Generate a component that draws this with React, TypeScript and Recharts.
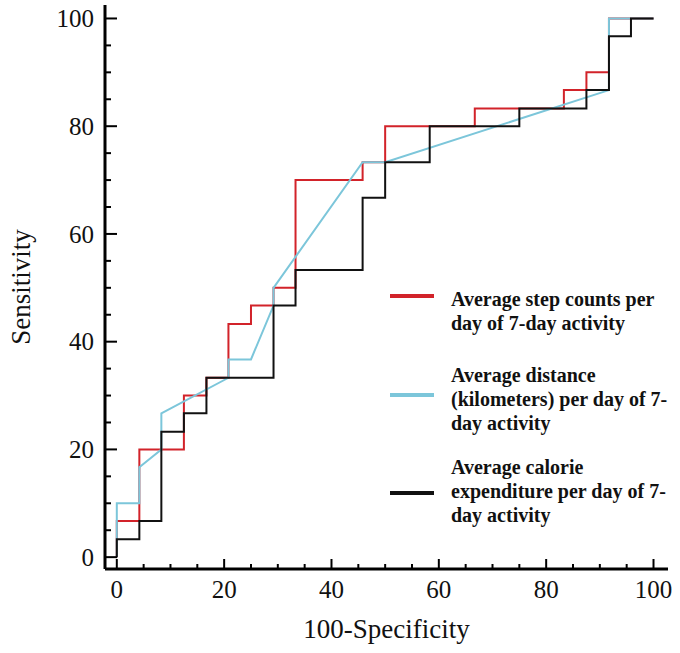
import { LineChart, Line, XAxis, YAxis, Legend, Label } from 'recharts';

// ROC operating points (100-Specificity, Sensitivity)
const stepX = [0, 0, 4.2, 12.5, 16.7, 20.8, 25, 29.2, 33.3, 45.8, 50, 66.7, 83.3, 87.5, 91.7, 100];
const stepY = [0, 6.7, 20, 30, 33.3, 43.3, 46.7, 50, 70, 73.3, 80, 83.3, 86.7, 90, 100, 100];

const distX = [0, 0, 4.2, 4.2, 8.3, 8.3, 20.8, 20.8, 25, 29.2, 29.2, 45.8, 50, 91.7, 91.7, 100];
const distY = [0, 10, 10, 16.7, 20, 26.7, 33.3, 36.7, 36.7, 46.7, 50, 73.3, 73.3, 86.7, 100, 100];

const calX = [0, 0, 4.2, 8.3, 12.5, 16.7, 29.2, 33.3, 45.8, 50, 58.3, 75, 87.5, 91.7, 95.8, 100];
const calY = [0, 3.3, 6.7, 23.3, 26.7, 33.3, 46.7, 53.3, 66.7, 73.3, 80, 83.3, 86.7, 96.7, 100, 100];

const axisTicks = [0, 5, 10, 15, 20, 25, 30, 35, 40, 45, 50, 55, 60, 65, 70, 75, 80, 85, 90, 95, 100];

const seriesNames = [
  'Average step counts per\nday of 7-day activity',
  'Average distance\n(kilometers) per day of 7-\nday activity',
  'Average calorie\nexpenditure per day of 7-\nday activity',
];
const seriesColors = ['#d2232a', '#7cc6da', '#111111'];

const toPoints = (xs: number[], ys: number[]) => xs.map((x, i) => ({ x, y: ys[i] }));

const FONT = '"Liberation Serif", "Times New Roman", serif';

// legend block placement (swatch centre, text top)
const legendSwatchY = [296, 395, 493];
const legendTextTop = [287, 363, 455];

const XTick = (props: any) => {
  const { x, y, payload } = props;
  const major = payload.value % 20 === 0;
  return (
    <g>
      <line x1={x} x2={x} y1={y} y2={y - (major ? 10 : 5)} stroke="#000" strokeWidth={2} />
      {major && (
        <text x={x} y={y + 29} textAnchor="middle" fontFamily={FONT} fontSize={25} fill="#111">
          {payload.value}
        </text>
      )}
    </g>
  );
};

const YTick = (props: any) => {
  const { x, y, payload } = props;
  const major = payload.value % 20 === 0;
  return (
    <g>
      <line x1={x} x2={x + (major ? 12 : 6)} y1={y} y2={y} stroke="#000" strokeWidth={2} />
      {major && (
        <text x={x - 11} y={y} dy="0.35em" textAnchor="end" fontFamily={FONT} fontSize={25} fill="#111">
          {payload.value}
        </text>
      )}
    </g>
  );
};

const renderLegend = (props: any) => {
  const { payload = [] } = props;
  return (
    <div style={{ position: 'relative', width: 680, height: 653 }}>
      {payload.map((entry: any) => {
        const i = seriesNames.indexOf(String(entry.value));
        return (
          <div key={i}>
            <div
              style={{
                position: 'absolute',
                left: 390,
                top: legendSwatchY[i] - 2,
                width: 44,
                height: 4,
                background: entry.color,
              }}
            />
            <div
              style={{
                position: 'absolute',
                left: 451,
                top: legendTextTop[i],
                fontFamily: FONT,
                fontWeight: 'bold',
                fontSize: 20,
                lineHeight: '24px',
                color: '#111',
                whiteSpace: 'pre',
                textAlign: 'left',
              }}
            >
              {String(entry.value)}
            </div>
          </div>
        );
      })}
    </div>
  );
};

export default function App() {
  return (
    <div style={{ position: 'absolute', left: 0, top: 0, width: 680, height: 653, background: '#fff' }}>
      <LineChart width={680} height={653} margin={{ top: 5, right: 12, left: 45, bottom: 44 }}>
        <XAxis
          type="number"
          dataKey="x"
          domain={[-2.2, 102.7]}
          ticks={axisTicks}
          interval={0}
          tickSize={0}
          tickMargin={0}
          tickLine={false}
          tick={<XTick />}
          height={40}
          axisLine={{ stroke: '#000', strokeWidth: 3 }}
          allowDuplicatedCategory={false}
        >
          <Label
            content={(p: any) => {
              const vb = p.viewBox || { x: 105, width: 563, y: 569 };
              return (
                <text x={vb.x + vb.width / 2} y={vb.y + 69} textAnchor="middle" fontFamily={FONT} fontSize={27} fill="#111">
                  100-Specificity
                </text>
              );
            }}
          />
        </XAxis>
        <YAxis
          type="number"
          dataKey="y"
          domain={[-2.2, 102.5]}
          ticks={axisTicks}
          interval={0}
          tickSize={0}
          tickMargin={0}
          tickLine={false}
          tick={<YTick />}
          width={60}
          axisLine={{ stroke: '#000', strokeWidth: 3 }}
        >
          <Label
            content={(p: any) => {
              const vb = p.viewBox || { y: 5, height: 564 };
              const cy = vb.y + vb.height / 2;
              return (
                <text x={30} y={cy} transform={`rotate(-90, 30, ${cy})`} textAnchor="middle" fontFamily={FONT} fontSize={27} fill="#111">
                  Sensitivity
                </text>
              );
            }}
          />
        </YAxis>
        <Legend
          layout="horizontal"
          verticalAlign="middle"
          align="center"
          wrapperStyle={{ position: 'absolute', left: 0, top: 0, width: 680, height: 653 }}
          content={renderLegend}
        />
        <Line
          data={toPoints(stepX, stepY)}
          dataKey="y"
          name={seriesNames[0]}
          type="stepAfter"
          stroke={seriesColors[0]}
          strokeWidth={2}
          dot={false}
          isAnimationActive={false}
        />
        <Line
          data={toPoints(distX, distY)}
          dataKey="y"
          name={seriesNames[1]}
          type="linear"
          stroke={seriesColors[1]}
          strokeWidth={2}
          dot={false}
          isAnimationActive={false}
        />
        <Line
          data={toPoints(calX, calY)}
          dataKey="y"
          name={seriesNames[2]}
          type="stepAfter"
          stroke={seriesColors[2]}
          strokeWidth={2}
          dot={false}
          isAnimationActive={false}
        />
      </LineChart>
    </div>
  );
}
